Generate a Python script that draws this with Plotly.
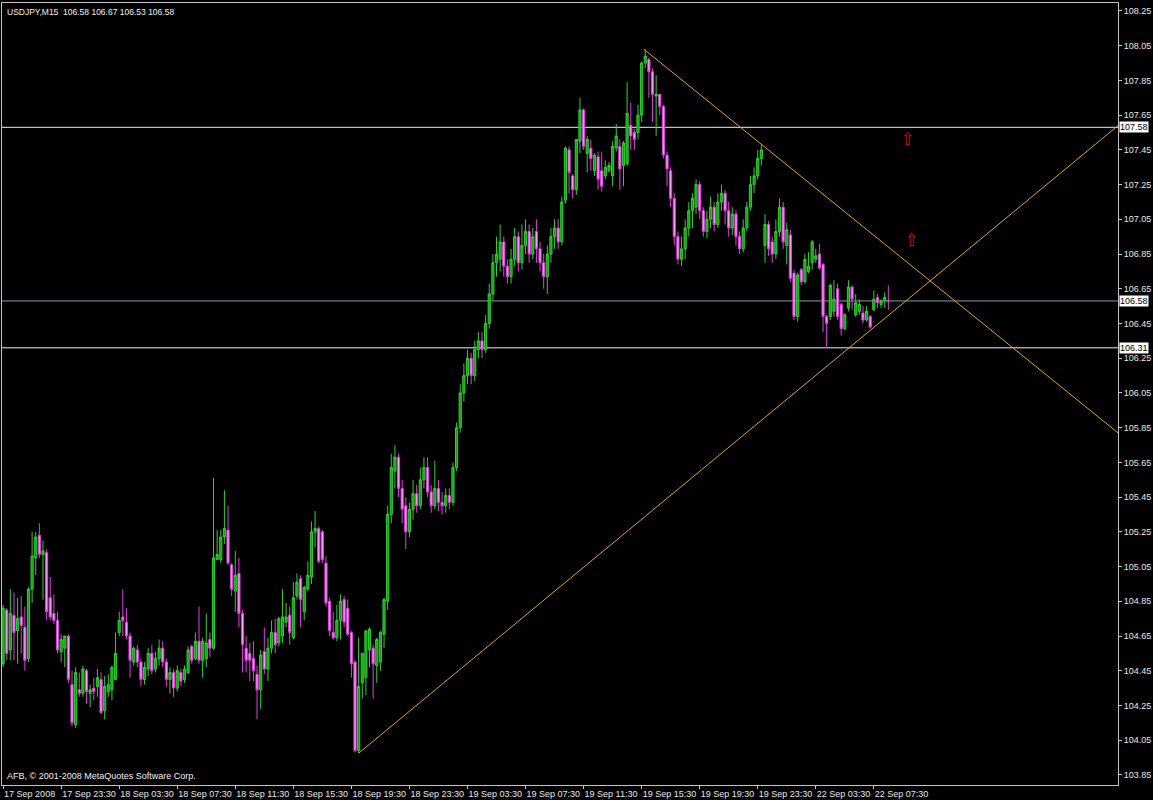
import plotly.graph_objects as go

# ---------------- data ----------------
symbol_header = "USDJPY,M15  106.58 106.67 106.53 106.58"
footer_text = "AFB, \u00a9 2001-2008 MetaQuotes Software Corp."

opens = [
104.49,104.80,104.57,104.77,104.68,104.76,104.70,104.52,104.92,105.10,
105.23,105.12,105.13,104.87,104.78,104.74,104.56,104.58,104.65,104.37,
104.14,104.34,104.32,104.45,104.32,104.35,104.36,104.40,104.22,104.33,
104.34,104.40,104.67,104.76,104.73,104.65,104.50,104.57,104.50,104.40,
104.46,104.55,104.46,104.52,104.58,104.50,104.40,104.44,104.35,104.44,
104.40,104.44,104.59,104.52,104.62,104.51,104.52,104.63,104.58,105.09,
105.09,105.22,105.26,105.06,104.91,105.01,104.78,104.58,104.55,104.52,
104.43,104.34,104.56,104.46,104.58,104.67,104.61,104.65,104.73,104.77,
104.64,104.88,104.98,104.79,104.92,104.99,105.25,105.27,105.25,105.07,
104.85,104.67,104.64,104.74,104.86,104.81,104.67,104.50,103.99,104.38,
104.41,104.57,104.58,104.48,104.50,104.66,104.85,105.35,105.60,105.68,
105.50,105.40,105.25,105.38,105.47,105.40,105.55,105.62,105.48,105.40,
105.50,105.42,105.40,105.46,105.42,105.62,105.85,106.05,106.15,106.25,
106.15,106.30,106.35,106.30,106.45,106.62,106.80,106.82,106.92,106.78,
106.72,106.82,106.95,106.80,106.90,106.98,106.85,106.98,106.88,106.80,
106.72,106.85,106.95,107.00,106.92,107.16,107.45,107.30,107.22,107.50,
107.68,107.43,107.46,107.33,107.41,107.33,107.30,107.33,107.30,107.46,
107.47,107.36,107.37,107.59,107.55,107.55,107.65,107.95,107.97,107.90,
107.76,107.77,107.70,107.42,107.33,107.17,106.95,106.82,106.88,107.00,
107.10,107.12,107.25,107.10,106.98,107.05,107.12,107.02,107.15,107.20,
107.10,107.00,107.08,106.95,106.88,107.00,107.12,107.25,107.30,107.40,
106.90,107.02,106.92,106.85,106.98,107.12,106.90,106.96,106.74,106.49,
106.76,106.69,106.75,106.80,106.82,106.85,106.79,106.49,106.49,106.52,
106.65,106.56,106.42,106.54,106.66,106.50,106.52,106.51,106.47,106.49,
106.53,106.60,106.56,106.58,106.58]

highs = [
104.83,104.81,104.92,104.90,104.87,104.88,104.82,104.93,105.25,105.25,
105.30,105.20,105.15,104.99,104.89,104.79,104.66,104.65,104.66,104.45,
104.47,104.44,104.48,104.46,104.37,104.41,104.46,104.44,104.42,104.43,
104.48,104.67,104.79,104.92,104.81,104.67,104.59,104.60,104.52,104.50,
104.58,104.60,104.56,104.63,104.62,104.52,104.47,104.46,104.48,104.46,
104.48,104.59,104.60,104.67,104.82,104.64,104.78,104.67,105.56,105.26,
105.26,105.49,105.40,105.07,105.14,105.10,104.80,104.65,104.61,104.62,
104.48,104.57,104.70,104.64,104.74,104.75,104.76,104.92,104.84,104.82,
104.96,105.01,105.00,104.94,105.08,105.31,105.37,105.28,105.26,105.11,
104.87,104.79,104.83,104.89,104.88,104.86,104.68,104.51,104.64,104.55,
104.68,104.70,104.60,104.64,104.68,104.87,105.40,105.70,105.75,105.70,
105.55,105.45,105.42,105.55,105.52,105.62,105.68,105.68,105.52,105.66,
105.55,105.48,105.50,105.50,105.65,105.88,106.10,106.22,106.30,106.28,
106.35,106.40,106.40,106.50,106.68,106.85,106.95,107.02,106.95,106.82,
106.88,107.00,106.98,107.02,107.05,107.02,107.00,107.05,106.92,106.85,
106.90,107.00,107.05,107.05,107.18,107.47,107.47,107.31,107.51,107.75,
107.69,107.53,107.51,107.43,107.44,107.44,107.39,107.38,107.50,107.60,
107.51,107.50,107.84,107.72,107.57,107.71,107.96,108.03,107.98,107.92,
107.88,107.77,107.71,107.44,107.35,107.20,106.98,106.95,107.05,107.15,
107.20,107.28,107.27,107.12,107.10,107.18,107.15,107.20,107.25,107.22,
107.15,107.12,107.10,106.98,107.05,107.15,107.30,107.35,107.45,107.48,
107.08,107.04,106.95,107.05,107.17,107.15,107.03,106.99,106.76,106.74,
106.77,106.85,106.86,106.93,106.88,106.91,106.80,106.50,106.68,106.70,
106.68,106.57,106.51,106.70,106.67,106.62,106.59,106.55,106.55,106.50,
106.64,106.62,106.59,106.63,106.67]

lows = [
104.47,104.51,104.51,104.51,104.49,104.55,104.45,104.50,104.84,105.00,
105.10,104.86,104.74,104.74,104.72,104.55,104.50,104.47,104.38,104.13,
104.12,104.30,104.30,104.26,104.24,104.28,104.30,104.20,104.17,104.30,
104.28,104.40,104.65,104.65,104.63,104.41,104.48,104.47,104.36,104.37,
104.42,104.43,104.44,104.48,104.47,104.36,104.32,104.30,104.33,104.36,
104.38,104.43,104.49,104.51,104.49,104.41,104.47,104.53,104.57,105.09,
105.07,105.18,105.06,104.88,104.79,104.70,104.44,104.44,104.39,104.39,
104.17,104.23,104.43,104.39,104.55,104.55,104.59,104.61,104.70,104.60,
104.63,104.86,104.70,104.74,104.91,104.95,105.16,105.07,105.07,104.82,
104.65,104.63,104.62,104.63,104.70,104.65,104.41,103.98,103.975,104.29,
104.31,104.47,104.29,104.38,104.45,104.58,104.80,105.30,105.50,105.45,
105.30,105.15,105.22,105.32,105.36,105.38,105.50,105.45,105.36,105.38,
105.37,105.35,105.36,105.38,105.40,105.60,105.82,106.00,106.10,106.10,
106.12,106.25,106.25,106.28,106.42,106.58,106.72,106.75,106.72,106.68,
106.68,106.78,106.75,106.76,106.85,106.80,106.82,106.80,106.75,106.65,
106.62,106.80,106.88,106.88,106.90,107.14,107.20,107.17,107.19,107.43,
107.45,107.32,107.33,107.30,107.22,107.21,107.28,107.32,107.24,107.44,
107.22,107.24,107.36,107.45,107.45,107.51,107.61,107.92,107.75,107.61,
107.53,107.65,107.40,107.24,107.12,106.90,106.79,106.78,106.82,106.95,
107.00,107.08,107.05,106.95,106.94,107.00,106.98,107.00,107.10,107.02,
106.95,106.96,106.90,106.85,106.86,106.98,107.10,107.20,107.28,107.36,
106.80,106.84,106.80,106.82,106.95,106.88,106.79,106.69,106.47,106.46,
106.67,106.68,106.74,106.76,106.80,106.76,106.40,106.31,106.47,106.49,
106.47,106.38,106.41,106.52,106.53,106.49,106.50,106.45,106.46,106.42,
106.52,106.54,106.54,106.54,106.53]

closes = [
104.81,104.55,104.78,104.67,104.75,104.71,104.51,104.92,105.11,105.22,
105.12,105.14,104.79,104.76,104.74,104.57,104.63,104.65,104.40,104.15,
104.44,104.32,104.46,104.33,104.34,104.33,104.41,104.21,104.36,104.37,
104.47,104.55,104.74,104.74,104.65,104.51,104.58,104.50,104.40,104.47,
104.55,104.45,104.52,104.58,104.50,104.40,104.44,104.35,104.45,104.39,
104.46,104.57,104.51,104.62,104.51,104.62,104.61,104.58,105.10,105.12,
105.22,105.27,105.07,104.92,105.00,104.78,104.60,104.51,104.51,104.45,
104.34,104.54,104.46,104.58,104.67,104.60,104.75,104.76,104.76,104.67,
104.87,104.96,104.86,104.93,105.00,105.25,105.27,105.08,105.09,104.84,
104.68,104.64,104.74,104.85,104.73,104.66,104.49,103.99,104.36,104.55,
104.68,104.69,104.49,104.63,104.67,104.86,105.35,105.62,105.68,105.50,
105.38,105.25,105.38,105.47,105.40,105.55,105.62,105.48,105.40,105.50,
105.42,105.40,105.46,105.42,105.62,105.85,106.05,106.15,106.25,106.15,
106.30,106.35,106.30,106.45,106.62,106.80,106.85,106.92,106.78,106.72,
106.82,106.95,106.80,106.90,106.98,106.85,106.95,106.88,106.80,106.72,
106.85,106.95,107.00,106.92,107.15,107.46,107.32,107.22,107.51,107.68,
107.47,107.51,107.40,107.42,107.28,107.24,107.35,107.36,107.47,107.53,
107.34,107.49,107.66,107.53,107.51,107.65,107.95,107.99,107.90,107.77,
107.77,107.70,107.42,107.34,107.17,106.95,106.82,106.88,107.00,107.10,
107.17,107.25,107.10,106.98,107.05,107.12,107.02,107.15,107.20,107.10,
107.00,107.08,106.95,106.88,107.00,107.12,107.25,107.30,107.40,107.45,
107.02,106.88,106.85,106.98,107.12,106.92,106.99,106.71,106.49,106.73,
106.69,106.82,106.78,106.92,106.84,106.77,106.49,106.45,106.67,106.59,
106.49,106.42,106.50,106.66,106.59,106.57,106.56,106.47,106.52,106.43,
106.59,106.57,106.58,106.60,106.58]

time_tick_bars = [0, 16, 32, 48, 64, 80, 96, 112, 128, 144, 160, 176, 192, 208, 224, 240]
time_tick_labels = ["17 Sep 2008", "17 Sep 23:30", "18 Sep 03:30", "18 Sep 07:30",
                    "18 Sep 11:30", "18 Sep 15:30", "18 Sep 19:30", "18 Sep 23:30",
                    "19 Sep 03:30", "19 Sep 07:30", "19 Sep 11:30", "19 Sep 15:30",
                    "19 Sep 19:30", "19 Sep 23:30", "22 Sep 03:30", "22 Sep 07:30"]

price_ticks = [103.85, 104.05, 104.25, 104.45, 104.65, 104.85, 105.05, 105.25,
               105.45, 105.65, 105.85, 106.05, 106.25, 106.45, 106.65, 106.85,
               107.05, 107.25, 107.45, 107.65, 107.85, 108.05, 108.25]

# horizontal level lines (user lines + bid line)
hline_levels = [107.58, 106.31]
bid_level = 106.58

# trend lines: (bar index, price) end points
trend_up_x = [98, 307.3]
trend_up_y = [103.975, 107.59]
trend_down_x = [176.6, 307.3]
trend_down_y = [108.03, 105.82]

# arrow objects
arrow_x = [249.3, 250.4]
arrow_y = [107.50, 106.92]

# ---------------- figure ----------------
bars = list(range(len(closes)))
FONT = "Liberation Sans, Arial, sans-serif"
FRAME = "#c4c4c4"
TREND = "#e6a21e"

fig = go.Figure()

fig.add_trace(go.Candlestick(
    x=bars, open=opens, high=highs, low=lows, close=closes,
    increasing=dict(line=dict(color="#2fd22f", width=1), fillcolor="#169c16"),
    decreasing=dict(line=dict(color="#e040e0", width=1), fillcolor="#f3a0f3"),
    whiskerwidth=0, hoverinfo="skip", showlegend=False,
))

fig.add_trace(go.Scatter(x=trend_up_x, y=trend_up_y, mode="lines",
                         line=dict(color=TREND, width=1), hoverinfo="skip", showlegend=False))
fig.add_trace(go.Scatter(x=trend_down_x, y=trend_down_y, mode="lines",
                         line=dict(color=TREND, width=1), hoverinfo="skip", showlegend=False))

fig.add_trace(go.Scatter(x=arrow_x, y=arrow_y, mode="text", text=["\u21e7"] * len(arrow_x),
                         textfont=dict(color="#c81010", size=17, family="DejaVu Sans"),
                         hoverinfo="skip", showlegend=False))

shapes = []
for lv in hline_levels:
    shapes.append(dict(type="line", xref="paper", x0=0, x1=1, yref="y", y0=lv, y1=lv,
                       line=dict(color="#f0f0f0", width=1), layer="below"))
shapes.append(dict(type="line", xref="paper", x0=0, x1=1, yref="y", y0=bid_level, y1=bid_level,
                   line=dict(color="#8a9aaa", width=1), layer="below"))

annotations = []
for lv in hline_levels + [bid_level]:
    annotations.append(dict(xref="paper", x=1, xanchor="left", yref="y", y=lv, yanchor="middle",
                            text="%.2f" % lv, showarrow=False, bgcolor="#ffffff",
                            font=dict(color="#000000", size=9, family=FONT),
                            borderpad=0, xshift=1))
annotations.append(dict(xref="paper", yref="paper", x=0, y=1, xanchor="left", yanchor="top",
                        text=symbol_header, showarrow=False, xshift=3, yshift=-2,
                        font=dict(color="#f0f0f0", size=8.5, family=FONT)))
annotations.append(dict(xref="paper", yref="paper", x=0, y=0, xanchor="left", yanchor="bottom",
                        text=footer_text, showarrow=False, xshift=3, yshift=2,
                        font=dict(color="#f0f0f0", size=9, family=FONT)))

fig.update_layout(
    width=1153, height=800,
    paper_bgcolor="#000000", plot_bgcolor="#000000",
    margin=dict(l=2, r=35, t=3, b=15, autoexpand=False),
    shapes=shapes, annotations=annotations,
    showlegend=False, boxgap=0.15,
    font=dict(family=FONT, size=9, color="#e8e8e8"),
    xaxis=dict(range=[-0.3, 307.3], tickvals=time_tick_bars, ticktext=time_tick_labels,
               ticks="outside", ticklen=3, tickcolor=FRAME, ticklabelposition="outside right",
               tickangle=0, automargin=False,
               showline=True, linecolor=FRAME, linewidth=1, mirror=True,
               showgrid=False, zeroline=False, rangeslider=dict(visible=False),
               tickfont=dict(color="#e8e8e8", size=9, family=FONT)),
    yaxis=dict(range=[103.792, 108.296], side="right", tickvals=price_ticks,
               ticktext=["%.2f" % v for v in price_ticks], automargin=False,
               ticks="outside", ticklen=3, tickcolor=FRAME, ticklabelstandoff=0,
               showline=True, linecolor=FRAME, linewidth=1, mirror=True,
               showgrid=False, zeroline=False,
               tickfont=dict(color="#e8e8e8", size=9, family=FONT)),
)

fig.write_html("out.html", config={"displayModeBar": False},
               post_script="document.body.style.margin='0';document.body.style.background='#000';")
